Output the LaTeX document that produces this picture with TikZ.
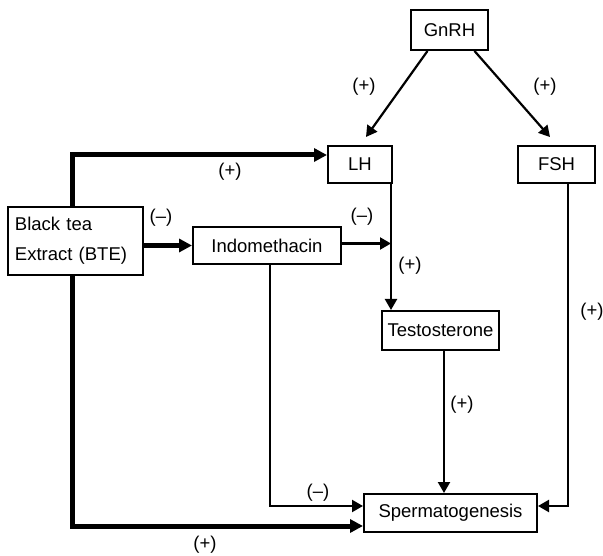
\documentclass[tikz,border=0pt]{standalone}
\usepackage{fontspec}
\setmainfont{Liberation Sans}
\usetikzlibrary{arrows.meta}
\begin{document}
\begin{tikzpicture}[x=1pt,y=-1pt,
  box/.style={draw,line width=2pt,minimum width=#1,inner sep=0pt,font=\fontsize{18.5}{20}\selectfont},
  lbl/.style={font=\fontsize{18.5}{20}\selectfont,inner sep=0pt},
  thinarr/.style={line width=2.2pt,-{Triangle[length=11pt,width=12pt]}},
  thickarr/.style={line width=5pt,-{Triangle[length=13pt,width=13pt]}},
  thinline/.style={line width=2.2pt}]
\useasboundingbox (0,0) rectangle (603,556);
\node[box=77pt,minimum height=40pt] (g) at (449.5,30) {GnRH};
\node[box=64pt,minimum height=37pt] (lh) at (360,164.5) {LH};
\node[box=77pt,minimum height=37pt] (fsh) at (556.5,164.5) {FSH};
\node[box=135pt,minimum height=68pt,align=left,text width=121pt,font=\fontsize{18.5}{30}\selectfont] (bte) at (75.5,241) {Black tea\\Extract (BTE)};
\node[box=148pt,minimum height=37pt] (indo) at (267,245.5) {Indomethacin};
\node[box=117pt,minimum height=39pt] (test) at (440.5,330.5) {Testosterone};
\node[box=173pt,minimum height=38pt] (sp) at (450.5,513) {Spermatogenesis};
\coordinate (lhtip) at (366,137);
\coordinate (fshtip) at (550,137);
% GnRH arrows
\draw[thinarr] ([xshift=-22pt]g.south) -- (lhtip);
\draw[thinarr] ([xshift=25pt]g.south) -- (fshtip);
\node[lbl] at (364,87) {(+)};
\node[lbl] at (545,87) {(+)};
% BTE to LH
\draw[thickarr] ([xshift=-3.5pt]bte.north) |- ([yshift=9.5pt]lh.west);
\node[lbl] at (230,172) {(+)};
% BTE to Indomethacin
\draw[thickarr] (indo.west -| bte.east) -- (indo.west);
\node[lbl] at (161,218) {(–)};
% LH to Testosterone
\coordinate (lhd) at ([xshift=-2pt]lh.south east);
\draw[thinarr] (lhd) -- (lhd |- test.north);
\node[lbl] at (410,266) {(+)};
% Indomethacin to LH line
\draw[thinarr] ([yshift=2pt]indo.east) -- ([yshift=2pt]indo.east -| lhd);
\node[lbl] at (362,217) {(–)};
% Testosterone to Spermatogenesis
\draw[thinarr] ([xshift=3.5pt]test.south) -- ([xshift=3.5pt]test.south |- sp.north);
\node[lbl] at (462,405) {(+)};
% FSH to Spermatogenesis
\draw[thinarr] ([xshift=11.5pt]fsh.south) |- ([yshift=7pt]sp.east);
\node[lbl] at (592,312) {(+)};
% Indomethacin to Spermatogenesis
\draw[thinarr] ([xshift=3pt]indo.south) |- ([yshift=7pt]sp.west);
\node[lbl] at (318,493) {(–)};
% BTE to Spermatogenesis
\draw[thickarr] ([xshift=-3.5pt]bte.south) |- ([yshift=-13pt]sp.west);
\node[lbl] at (205,545) {(+)};
\end{tikzpicture}
\end{document}
